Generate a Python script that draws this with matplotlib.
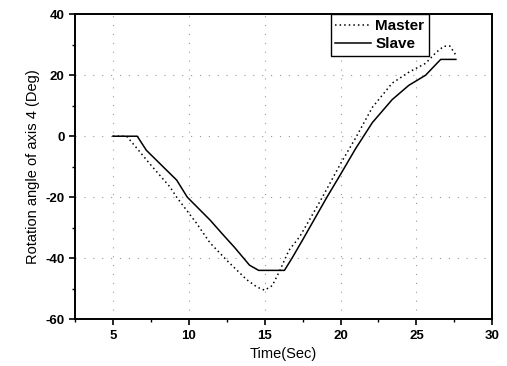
import matplotlib.pyplot as plt
from matplotlib.ticker import MultipleLocator

plt.rcParams['font.family'] = ['Liberation Sans', 'DejaVu Sans']
plt.rcParams['axes.unicode_minus'] = False

# time (s) and rotation angle (deg) for each arm
master_t = [5.0, 5.9, 6.5, 7.4, 8.75, 9.2, 10.5, 11.4, 12.5, 13.8, 14.5, 15.0, 15.5,
            16.0, 16.6, 17.3, 18.0, 18.8, 20.0, 21.0, 22.1, 23.4, 24.5, 25.6, 26.3,
            26.8, 27.2, 27.6]
master_y = [0.0, 0.0, -3.5, -8.9, -16.6, -20.0, -28.5, -35.0, -40.7, -47.0, -49.5,
            -50.5, -49.0, -44.0, -37.4, -33.0, -27.0, -20.0, -9.0, -0.5, 9.5, 17.4,
            21.0, 23.9, 27.5, 29.5, 29.6, 26.6]

slave_t = [5.0, 6.6, 7.2, 8.3, 9.2, 9.9, 11.4, 12.2, 13.0, 14.0, 14.6, 16.3, 16.8,
           17.5, 18.3, 19.1, 20.0, 21.0, 22.1, 23.4, 24.5, 25.6, 26.6, 27.6]
slave_y = [0.0, 0.0, -4.6, -10.0, -14.4, -20.0, -27.5, -32.0, -36.4, -42.3, -44.0,
           -44.0, -40.0, -34.0, -27.0, -20.0, -12.5, -4.0, 4.5, 12.0, 16.7, 20.0,
           25.2, 25.2]

fig = plt.figure(figsize=(5.07, 3.66), dpi=100)
ax = fig.add_axes([0.148, 0.128, 0.823, 0.833])

ax.plot(master_t, master_y, color='black', linestyle=(0, (1, 2)), linewidth=1.1,
        label='Master')
ax.plot(slave_t, slave_y, color='black', linestyle='-', linewidth=1.1, label='Slave')

ax.set_xlim(2.5, 30)
ax.set_ylim(-60, 40)
ax.xaxis.set_major_locator(MultipleLocator(5))
ax.xaxis.set_minor_locator(MultipleLocator(2.5))
ax.yaxis.set_major_locator(MultipleLocator(20))
ax.yaxis.set_minor_locator(MultipleLocator(10))
ax.grid(True, which='major', color='#999999', linestyle=(0, (1, 7)), linewidth=0.8)

ax.tick_params(which='major', direction='out', length=4, width=1.2, labelsize=9.5)
ax.tick_params(which='minor', direction='out', length=2.5, width=1.0)
for lbl in ax.get_xticklabels() + ax.get_yticklabels():
    lbl.set_fontweight('bold')
for sp in ax.spines.values():
    sp.set_linewidth(1.4)

ax.set_xlabel('Time(Sec)', fontsize=10.5)
ax.set_ylabel('Rotation angle of axis 4 (Deg)', fontsize=10.5)

leg = ax.legend(loc='upper left', bbox_to_anchor=(0.613, 1.0),
                prop={'size': 11, 'weight': 'bold'},
                frameon=True, fancybox=False, edgecolor='black', framealpha=1,
                handlelength=2.3, handletextpad=0.3, borderpad=0.3,
                labelspacing=0.3, borderaxespad=0)
leg.get_frame().set_linewidth(1.0)

fig.savefig('out.png', dpi=100)
